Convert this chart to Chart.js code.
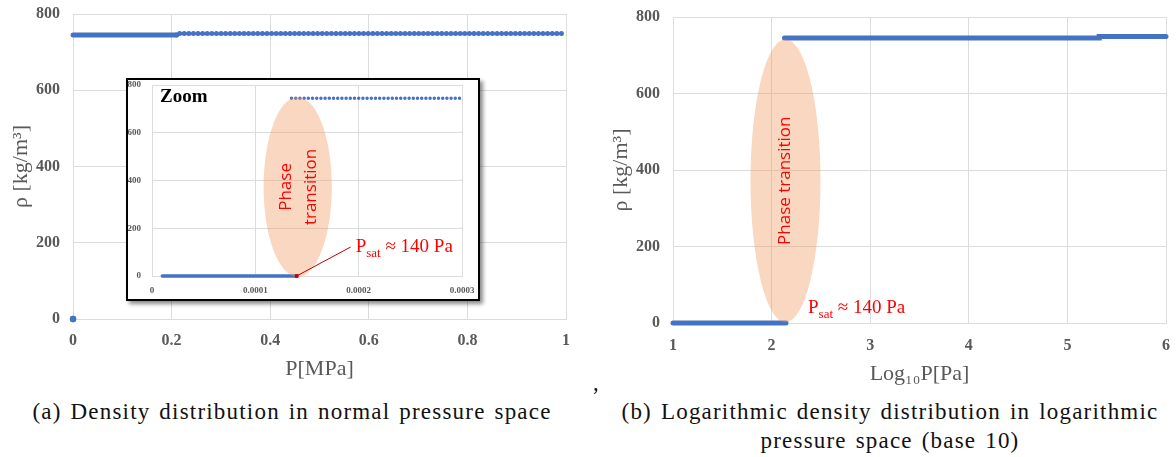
<!DOCTYPE html>
<html>
<head>
<meta charset="utf-8">
<script src="https://cdn.jsdelivr.net/npm/chart.js@4.4.1/dist/chart.umd.min.js"></script>
<style>
  html, body { margin: 0; padding: 0; background: #fff; }
  body { width: 1176px; height: 457px; position: relative; overflow: hidden; font-family: "Liberation Serif", serif; }
  #mainChart { position: absolute; left: 0; top: 0; }
  #zoomBox { position: absolute; left: 126px; top: 78px; width: 350px; height: 219px; border: 2px solid #000; background: #fff; box-shadow: 3px 3px 4px rgba(0,0,0,0.45); }
  #zoomChart { display: block; }
  #logChart { position: absolute; left: 600px; top: 0; }
  .caption { position: absolute; font-size: 23px; letter-spacing: 1.2px; word-spacing: 2px; color: #111; text-align: center; line-height: 29px; white-space: nowrap; }
</style>
</head>
<body>
<canvas id="mainChart" width="600" height="390"></canvas>
<div id="zoomBox"><canvas id="zoomChart" width="350" height="219"></canvas></div>
<canvas id="logChart" width="576" height="395"></canvas>
<div class="caption" style="left:0;width:584px;top:397px">(a) Density distribution in normal pressure space</div>
<div class="caption" style="left:593px;top:368px">,</div>
<div class="caption" style="left:600px;width:580px;top:397px">(b) Logarithmic density distribution in logarithmic<br>pressure space (base 10)</div>

<script>
// pressure samples in MPa, density in kg/m3
const vapourP   = [1e-5, 1.4e-4];
const vapourRho = [0, 0];
const liquidP   = [1.35e-4, 0.21, 0.21, 1];
const liquidRho = [745, 745, 749, 749];
const pSatPa    = 140;

const rhoTicks   = [0, 200, 400, 600, 800];
const pTicks     = [0, 0.2, 0.4, 0.6, 0.8, 1];
const pZoomTicks = [0, 0.0001, 0.0002, 0.0003];
const logPTicks  = [1, 2, 3, 4, 5, 6];

const BLUE  = '#4472C4';
const GRID  = '#dcdcdc';
const GREY  = '#595959';
const RED   = '#ff0000';
const SERIF = '"Liberation Serif", "Times New Roman", serif';
const SANS  = '"Open Sans", "Noto Sans", sans-serif';
const PEACH = 'rgba(240, 150, 90, 0.38)';

const pSat = pSatPa / 1e6;
const toPts = (xs, ys, fx = v => v) => xs.map((v, i) => ({ x: fx(v), y: ys[i] }));
const toLogPa = mpa => Math.log10(mpa * 1e6);

const psatParts = size => [
  { text: 'P', font: size + 'px ' + SERIF, shift: 0 },
  { text: 'sat', font: Math.round(size * 0.68) + 'px ' + SERIF, shift: 5 },
  { text: ' \u2248 ' + pSatPa + ' Pa', font: size + 'px ' + SERIF, shift: 0 }
];

function drawEllipse(chart, e) {
  const { ctx, scales: { x, y } } = chart;
  const cx = x.getPixelForValue(e.x), cy = y.getPixelForValue(e.y);
  const rx = Math.abs(x.getPixelForValue(e.x + e.rx) - cx);
  const ry = Math.abs(cy - y.getPixelForValue(e.y + e.ry));
  ctx.save();
  ctx.beginPath();
  ctx.ellipse(cx, cy, rx, ry, 0, 0, Math.PI * 2);
  ctx.fillStyle = PEACH;
  ctx.fill();
  ctx.restore();
}

function drawLabel(chart, l) {
  const { ctx, scales: { x, y } } = chart;
  const px = x.getPixelForValue(l.x) + (l.dx || 0);
  const py = y.getPixelForValue(l.y) + (l.dy || 0);
  ctx.save();
  ctx.translate(px, py);
  if (l.rotate) ctx.rotate(l.rotate);
  ctx.fillStyle = l.color;
  ctx.textBaseline = l.baseline || 'alphabetic';
  ctx.textAlign = 'left';
  let total = 0;
  l.parts.forEach(p => { ctx.font = p.font; total += ctx.measureText(p.text).width; });
  let cx = l.align === 'center' ? -total / 2 : 0;
  l.parts.forEach(p => {
    ctx.font = p.font;
    ctx.fillText(p.text, cx, p.shift || 0);
    cx += ctx.measureText(p.text).width;
  });
  ctx.restore();
}

// ellipse, rotated captions and the P_sat note, all anchored to data values
function phaseNotes(notes) {
  return {
    id: 'phaseNotes',
    beforeDatasetDraw(chart, args) {
      if (notes.ellipse && notes.ellipse.before === args.index) drawEllipse(chart, notes.ellipse);
    },
    afterDatasetsDraw(chart) {
      if (notes.ellipse && notes.ellipse.before === undefined) drawEllipse(chart, notes.ellipse);
      const { ctx, scales: { x, y } } = chart;
      if (notes.leader) {
        const l = notes.leader;
        const px = x.getPixelForValue(l.x), py = y.getPixelForValue(l.y);
        ctx.save();
        ctx.strokeStyle = l.color;
        ctx.lineWidth = 1;
        ctx.beginPath();
        ctx.moveTo(px, py);
        ctx.lineTo(px + l.dx, py + l.dy);
        ctx.stroke();
        ctx.restore();
      }
      (notes.labels || []).forEach(l => drawLabel(chart, l));
    }
  };
}

function axis(opts) {
  const horizontal = opts.horizontal;
  return {
    type: 'linear',
    min: opts.min,
    max: opts.max,
    afterBuildTicks: s => { s.ticks = opts.ticks.map(v => ({ value: v })); },
    afterFit: s => {
      if (horizontal) { s.height = opts.size; s.paddingLeft = 0; s.paddingRight = 0; }
      else { s.width = opts.size; s.paddingTop = 0; s.paddingBottom = 0; }
    },
    grid: { color: GRID, drawTicks: false },
    border: { color: GRID },
    ticks: {
      padding: opts.pad,
      color: GREY,
      font: { family: SERIF, size: opts.fontSize, weight: 'bold' },
      callback: opts.format || (v => String(v))
    },
    title: opts.title ? {
      display: true,
      text: opts.title,
      color: GREY,
      font: { family: SERIF, size: 22 },
      padding: horizontal ? { top: 0, bottom: 8 } : { top: 8, bottom: 0 }
    } : { display: false }
  };
}

const baseOptions = (padding, scales) => ({
  responsive: false,
  animation: false,
  layout: { padding },
  plugins: { legend: { display: false }, tooltip: { enabled: false } },
  scales
});

// thick line with round ends, allowed to spill a few px past the plot edge
const lineSet = (data, width, extra) => Object.assign({
  data, showLine: true, borderColor: BLUE, borderWidth: width, borderCapStyle: 'round', pointRadius: 0, clip: 3
}, extra || {});

// (a) density against pressure in MPa
new Chart(document.getElementById('mainChart'), {
  type: 'scatter',
  data: {
    datasets: [
      lineSet(toPts(liquidP, liquidRho), 5, {
        segment: { borderDash: ctx => ctx.p0.parsed.x >= liquidP[1] ? [0, 4.6] : undefined }
      }),
      {
        data: toPts(vapourP, vapourRho),
        showLine: false, pointRadius: 3.2, backgroundColor: BLUE, borderWidth: 0, clip: false
      }
    ]
  },
  options: baseOptions({ left: 0, top: 14, right: 34, bottom: 0 }, {
    x: axis({ horizontal: true, min: 0, max: 1, ticks: pTicks, size: 71, pad: 12, fontSize: 16, title: 'P[MPa]' }),
    y: axis({ min: 0, max: 800, ticks: rhoTicks, size: 73, pad: 13, fontSize: 16, title: '\u03C1 [kg/m\u00B3]' })
  })
});

// zoomed view around the saturation pressure
new Chart(document.getElementById('zoomChart'), {
  type: 'scatter',
  data: {
    datasets: [
      {
        data: [{ x: pSat, y: 0 }],
        showLine: false, pointStyle: 'rect', pointRadius: 2.6, backgroundColor: '#C00000', borderWidth: 0, clip: false
      },
      lineSet(toPts(liquidP, liquidRho), 3.5, { borderDash: [0, 4.2], clip: { left: 3, top: 3, right: 0, bottom: 3 } }),
      lineSet(toPts(vapourP, vapourRho), 3.5)
    ]
  },
  options: baseOptions({ left: 0, top: 5, right: 16, bottom: 0 }, {
    x: axis({ horizontal: true, min: 0, max: 0.0003, ticks: pZoomTicks, size: 23, pad: 9, fontSize: 9,
              format: v => v === 0 ? '0' : v.toFixed(4) }),
    y: axis({ min: 0, max: 800, ticks: rhoTicks, size: 24, pad: 11, fontSize: 9 })
  }),
  plugins: [phaseNotes({
    ellipse: { x: 1.41e-4, y: 373, rx: 3.3e-5, ry: 377, before: 0 },
    leader: { x: pSat, y: 0, dx: 54, dy: -29, color: '#C00000' },
    labels: [
      { x: 1.41e-4, y: 373, dx: -12, rotate: -Math.PI / 2, align: 'center', baseline: 'middle', color: RED,
        parts: [{ text: 'Phase', font: '17px ' + SANS }] },
      { x: 1.41e-4, y: 373, dx: 13, rotate: -Math.PI / 2, align: 'center', baseline: 'middle', color: RED,
        parts: [{ text: 'transition', font: '17px ' + SANS }] },
      { x: 0, y: 800, dx: 8, dy: 17, color: '#000', parts: [{ text: 'Zoom', font: 'bold 19px ' + SERIF }] },
      { x: pSat, y: 0, dx: 59, dy: -24, color: RED, parts: psatParts(19) }
    ]
  })]
});

// (b) density against log10 of pressure in Pa
new Chart(document.getElementById('logChart'), {
  type: 'scatter',
  data: {
    datasets: [
      lineSet(toPts(liquidP, liquidRho, toLogPa), 5),
      lineSet(toPts(vapourP, vapourRho, toLogPa), 5)
    ]
  },
  options: baseOptions({ left: 0, top: 17, right: 10, bottom: 0 }, {
    x: axis({ horizontal: true, min: 1, max: 6, ticks: logPTicks, size: 72, pad: 13, fontSize: 16, title: 'Log\u2081\u2080P[Pa]' }),
    y: axis({ min: 0, max: 800, ticks: rhoTicks, size: 73, pad: 13, fontSize: 16, title: '\u03C1 [kg/m\u00B3]' })
  }),
  plugins: [phaseNotes({
    ellipse: { x: 2.141, y: 372, rx: 0.355, ry: 370 },
    labels: [
      { x: 2.141, y: 372, rotate: -Math.PI / 2, align: 'center', baseline: 'middle', color: RED,
        parts: [{ text: 'Phase transition', font: '17px ' + SANS }] },
      { x: Math.log10(pSatPa), y: 0, dx: 22, dy: -10, color: RED, parts: psatParts(19) }
    ]
  })]
});
</script>
</body>
</html>
